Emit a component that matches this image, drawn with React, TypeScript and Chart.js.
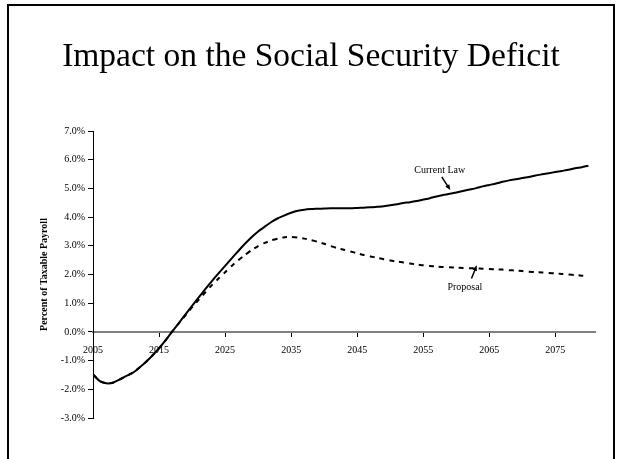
import React, { useEffect, useRef } from "react";
import { Chart, registerables } from "chart.js";

Chart.register(...registerables);

const FONT = '"Liberation Serif", "Times New Roman", Times, serif';

const titleText = "Impact on the Social Security Deficit";
const yAxisTitle = "Percent of Taxable Payroll";

const years = [
  2005, 2006, 2007, 2008, 2009, 2010, 2011, 2012, 2013, 2014,
  2015, 2016, 2017, 2018, 2019, 2020, 2021, 2022, 2023, 2024,
  2025, 2026, 2027, 2028, 2029, 2030, 2031, 2032, 2033, 2034,
  2035, 2036, 2037, 2038, 2039, 2040, 2041, 2042, 2043, 2044,
  2045, 2046, 2047, 2048, 2049, 2050, 2051, 2052, 2053, 2054,
  2055, 2056, 2057, 2058, 2059, 2060, 2061, 2062, 2063, 2064,
  2065, 2066, 2067, 2068, 2069, 2070, 2071, 2072, 2073, 2074,
  2075, 2076, 2077, 2078, 2079, 2080,
];

const currentLaw = [
  -1.48, -1.71, -1.79, -1.77, -1.66, -1.54, -1.43, -1.25, -1.05, -0.82,
  -0.57, -0.29, 0.02, 0.31, 0.61, 0.91, 1.2, 1.49, 1.77, 2.04,
  2.3, 2.56, 2.82, 3.07, 3.3, 3.5, 3.67, 3.83, 3.96, 4.06,
  4.15, 4.22, 4.26, 4.28, 4.29, 4.3, 4.31, 4.31, 4.31, 4.31,
  4.32, 4.33, 4.34, 4.36, 4.38, 4.41, 4.45, 4.49, 4.52, 4.56,
  4.61, 4.66, 4.72, 4.77, 4.81, 4.86, 4.91, 4.96, 5.01, 5.07,
  5.12, 5.17, 5.23, 5.28, 5.32, 5.36, 5.4, 5.45, 5.49, 5.53,
  5.57, 5.61, 5.65, 5.7, 5.74, 5.79,
];

const proposal = [
  -1.48, -1.71, -1.79, -1.77, -1.66, -1.54, -1.43, -1.25, -1.05, -0.82,
  -0.57, -0.29, 0.02, 0.3, 0.58, 0.86, 1.12, 1.38, 1.63, 1.86,
  2.08, 2.3, 2.5, 2.68, 2.85, 2.99, 3.1, 3.19, 3.25, 3.3,
  3.31, 3.29, 3.25, 3.2, 3.14, 3.07, 2.99, 2.92, 2.86, 2.8,
  2.74, 2.68, 2.63, 2.58, 2.53, 2.49, 2.45, 2.42, 2.38, 2.35,
  2.32, 2.3, 2.28, 2.26, 2.25, 2.24, 2.23, 2.22, 2.21, 2.2,
  2.19, 2.18, 2.17, 2.15, 2.14, 2.12, 2.1, 2.08, 2.07, 2.05,
  2.04, 2.02, 2.0, 1.98, 1.96, 1.94,
];

const xTickYears = [2005, 2015, 2025, 2035, 2045, 2055, 2065, 2075];
const yTickValues = [-3, -2, -1, 0, 1, 2, 3, 4, 5, 6, 7];

const seriesNames = ["Current Law", "Proposal"];

const annotationPlugin = {
  id: "arrowLabels",
  afterDatasetsDraw(chart: any) {
    const { ctx, scales } = chart;
    const xs = scales.x;
    const ys = scales.y;
    const items = [
      { text: seriesNames[0], tx: 2057.5, ty: 5.63, ax: 2057.8, ay: 5.4, bx: 2059.1, by: 4.94 },
      { text: seriesNames[1], tx: 2061.3, ty: 1.56, ax: 2062.3, ay: 1.86, bx: 2063.1, by: 2.32 },
    ];
    ctx.save();
    ctx.font = `10px ${FONT}`;
    ctx.fillStyle = "#000";
    ctx.strokeStyle = "#000";
    ctx.textAlign = "center";
    ctx.textBaseline = "middle";
    for (const it of items) {
      ctx.fillText(it.text, xs.getPixelForValue(it.tx), ys.getPixelForValue(it.ty));
      const x1 = xs.getPixelForValue(it.ax);
      const y1 = ys.getPixelForValue(it.ay);
      const x2 = xs.getPixelForValue(it.bx);
      const y2 = ys.getPixelForValue(it.by);
      const ang = Math.atan2(y2 - y1, x2 - x1);
      const head = 6;
      ctx.lineWidth = 1.5;
      ctx.beginPath();
      ctx.moveTo(x1, y1);
      ctx.lineTo(x2 - Math.cos(ang) * head * 0.7, y2 - Math.sin(ang) * head * 0.7);
      ctx.stroke();
      ctx.beginPath();
      ctx.moveTo(x2, y2);
      ctx.lineTo(x2 - head * Math.cos(ang - 0.4), y2 - head * Math.sin(ang - 0.4));
      ctx.lineTo(x2 - head * Math.cos(ang + 0.4), y2 - head * Math.sin(ang + 0.4));
      ctx.closePath();
      ctx.fill();
    }
    ctx.restore();
  },
};

const framePlugin = {
  id: "slideFrame",
  beforeDraw(chart: any) {
    const { ctx } = chart;
    ctx.save();
    ctx.fillStyle = "#fff";
    ctx.fillRect(0, 0, chart.width, chart.height);
    ctx.strokeStyle = "#000";
    ctx.lineWidth = 2;
    ctx.beginPath();
    ctx.moveTo(8, chart.height + 5);
    ctx.lineTo(8, 5);
    ctx.lineTo(614, 5);
    ctx.lineTo(614, chart.height + 5);
    ctx.stroke();
    ctx.restore();
  },
};

export default function App() {
  const canvasRef = useRef<HTMLCanvasElement | null>(null);

  useEffect(() => {
    const canvas = canvasRef.current;
    if (!canvas) return;
    const chart = new Chart(canvas, {
      type: "line",
      data: {
        datasets: [
          {
            label: seriesNames[0],
            data: years.map((y, i) => ({ x: y, y: currentLaw[i] })),
            borderColor: "#000",
            borderWidth: 2,
            pointRadius: 0,
            fill: false,
            tension: 0.2,
          },
          {
            label: seriesNames[1],
            data: years.map((y, i) => ({ x: y, y: proposal[i] })),
            borderColor: "#000",
            borderWidth: 2,
            borderDash: [5, 5],
            pointRadius: 0,
            fill: false,
            tension: 0.2,
          },
        ],
      },
      options: {
        animation: false,
        responsive: false,
        events: [],
        layout: { padding: { left: 27, right: 24, top: 0, bottom: 41 } },
        plugins: {
          legend: { display: false },
          tooltip: { enabled: false },
          title: {
            display: true,
            text: titleText,
            color: "#000",
            font: { family: FONT, size: 33.5, weight: "normal", lineHeight: 1.2 },
            padding: { top: 37, bottom: 53.8 },
          },
        },
        scales: {
          x: {
            type: "linear",
            min: 2005,
            max: 2081,
            position: { y: 0 } as any,
            afterBuildTicks: (s: any) => {
              s.ticks = xTickYears.map((v) => ({ value: v }));
            },
            afterFit: (s: any) => {
              s.height = 0;
            },
            grid: { drawOnChartArea: false, drawTicks: true, tickLength: 4, color: "#000", lineWidth: 1 },
            border: { color: "#808080", width: 2 },
            ticks: {
              font: { family: FONT, size: 10 },
              color: "#000",
              padding: 8,
              maxRotation: 0,
              autoSkip: false,
              callback: (v: any) => String(v),
            },
          },
          y: {
            type: "linear",
            min: -3,
            max: 7,
            afterBuildTicks: (s: any) => {
              s.ticks = yTickValues.map((v) => ({ value: v }));
            },
            afterFit: (s: any) => {
              s.width = 66;
            },
            grid: { drawOnChartArea: false, drawTicks: true, tickLength: 5, color: "#000" },
            border: { color: "#000", width: 1 },
            ticks: {
              font: { family: FONT, size: 10 },
              color: "#000",
              padding: 3,
              callback: (v: any) => Number(v).toFixed(1) + "%",
            },
            title: {
              display: true,
              text: yAxisTitle,
              color: "#000",
              font: { family: FONT, size: 10, weight: "bold" },
              padding: { top: 11, bottom: 0 },
            },
          },
        },
      },
      plugins: [framePlugin, annotationPlugin],
    });
    return () => chart.destroy();
  }, []);

  return (
    <div
      style={{
        position: "fixed",
        left: 0,
        top: 0,
        width: 619,
        height: 459,
        background: "#fff",
        overflow: "hidden",
      }}
    >
      <canvas
        ref={canvasRef}
        width={619}
        height={459}
        style={{ position: "absolute", left: 0, top: 0, width: 619, height: 459 }}
      />
    </div>
  );
}
